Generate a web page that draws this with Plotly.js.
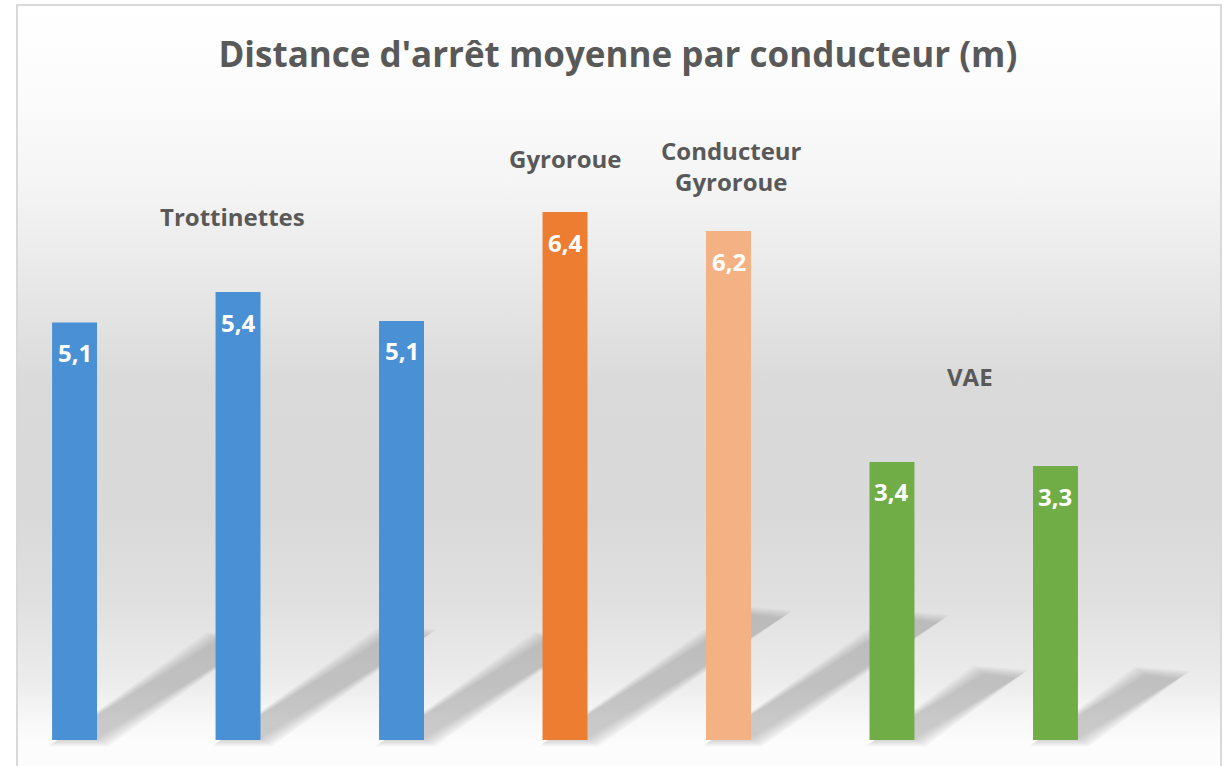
<!DOCTYPE html>
<html>
<head>
<meta charset="utf-8">
<script src="https://cdn.plot.ly/plotly-3.0.1.min.js"></script>
<style>
  html, body { margin: 0; padding: 0; background: #ffffff; overflow: hidden; }
  #frame {
    position: absolute; left: 16px; top: 4px; width: 1202px; height: 800px;
    border: 2px solid #d9d9d9;
    background: linear-gradient(to bottom, #ffffff 0%, #fbfbfb 12%, #f5f5f5 22%, #e8e8e8 34.5%, #dadada 47%, #d9d9d9 63%, #e0e0e0 74.5%, #ececec 84.5%, #f8f8f8 89.5%, #fcfcfc 92%, #fdfdfd 100%);
  }
  #chart { position: absolute; left: 0; top: 0; width: 1226px; height: 766px; }
</style>
</head>
<body>
<div id="frame"></div>
<div id="chart"></div>
<script>
// ---- data ----
const barIndex = [0, 1, 2, 3, 4, 5, 6];
const values   = [5.06, 5.43, 5.08, 6.40, 6.17, 3.37, 3.32];
const barColors = ['#4a90d4', '#4a90d4', '#4a90d4', '#ed7d31', '#f4b183', '#70ad47', '#70ad47'];
const groupNames = ['Trottinettes', 'Gyroroue', 'Conducteur<br>Gyroroue', 'VAE'];

// ---- label placement (styling) ----
const groupY = [6.35, 7.05, 6.96, 4.41];
const groupX = [0.966, 3.0, 4.02, 5.48];
const barWidth = 0.275;
const labelFont = 'Open Sans, sans-serif';

const annotations = [];
values.forEach((v, i) => {
  annotations.push({
    x: barIndex[i], y: v, xref: 'x', yref: 'y', yshift: -30,
    text: '<b>' + v.toFixed(1).replace('.', ',') + '</b>', showarrow: false,
    font: {family: labelFont, size: 24, color: '#ffffff'}
  });
});
groupNames.forEach((g, i) => {
  annotations.push({
    x: groupX[i], y: groupY[i], xref: 'x', yref: 'y',
    text: '<b>' + g + '</b>', showarrow: false,
    font: {family: labelFont, size: 24, color: '#595959'}
  });
});

// soft shadows cast by each bar on the floor
const shapes = [];
const nLayers = 8;
values.forEach((v, i) => {
  const xl = barIndex[i] - 0.09, xr = barIndex[i] + barWidth / 2;
  const dx = 0.185 * v, dy = 0.238 * v;
  for (let k = 0; k < nLayers; k++) {
    const gx = 0.07 * (nLayers - 1 - k) / (nLayers - 1);
    const gy = gx * 163.5 / 82.5 * 0.7;
    const path = `M ${xl - gx} ${0.02 - gy} L ${xr + gx} ${0.02 - gy} ` +
                 `L ${xr + dx + gx} ${dy - 0.05 + gy} L ${xl + dx + 0.03 - gx} ${dy + gy} Z`;
    shapes.push({type: 'path', path: path, xref: 'x', yref: 'y', layer: 'below',
      fillcolor: 'rgba(110,110,110,0.05)', line: {width: 0}});
  }
});

const trace = {
  type: 'bar', x: barIndex, y: values, width: barWidth,
  marker: {color: barColors, line: {width: 0}},
  hoverinfo: 'skip'
};

const layout = {
  width: 1226, height: 766, autosize: false,
  margin: {l: 0, r: 0, t: 0, b: 0, pad: 0},
  paper_bgcolor: 'rgba(0,0,0,0)', plot_bgcolor: 'rgba(0,0,0,0)',
  showlegend: false,
  title: {
    text: "<b>Distance d'arrêt moyenne par conducteur (m)</b>",
    x: 0.504, xanchor: 'center', y: 0.928, yanchor: 'middle', yref: 'container',
    font: {family: labelFont, size: 35, color: '#595959'}
  },
  xaxis: {range: [-0.456, 7.043], visible: false, fixedrange: true},
  yaxis: {range: [-0.315, 8.97], visible: false, fixedrange: true},
  annotations: annotations,
  shapes: shapes
};

Plotly.newPlot('chart', [trace], layout, {displayModeBar: false, staticPlot: true});
</script>
</body>
</html>
